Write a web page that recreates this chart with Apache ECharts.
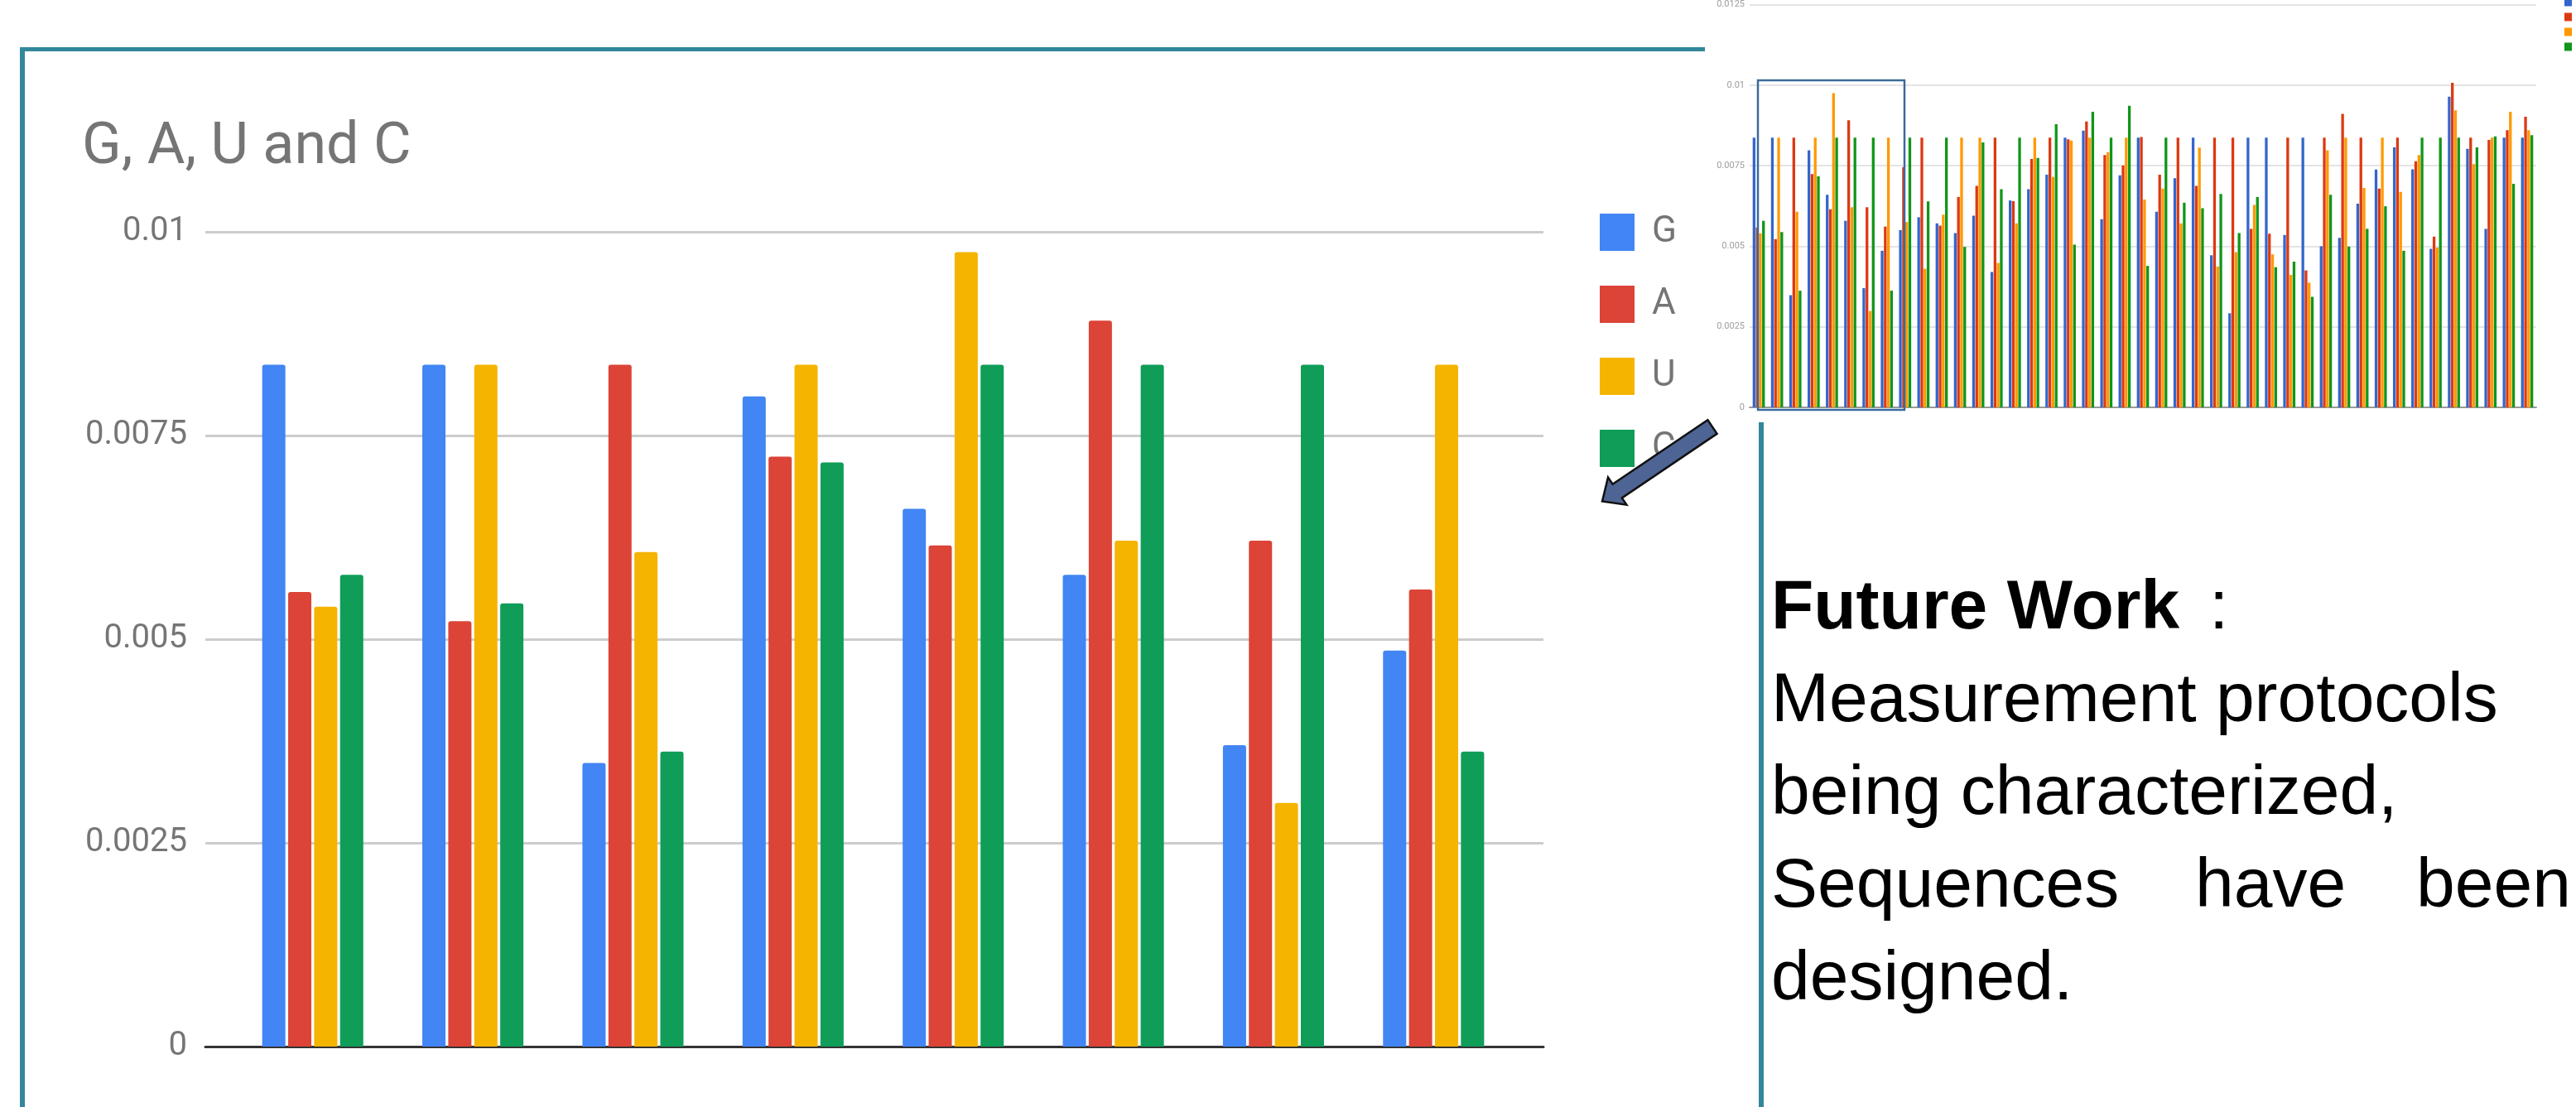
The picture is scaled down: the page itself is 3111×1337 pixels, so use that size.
<!DOCTYPE html>
<html>
<head>
<meta charset="utf-8">
<script src="https://cdn.jsdelivr.net/npm/echarts@6/dist/echarts.min.js"></script>
<style>
  html, body { margin: 0; padding: 0; background: #ffffff; }
  #chart { width: 3111px; height: 1337px; }
</style>
</head>
<body>
<div id="chart"></div>
<script>
// Nucleotide frequency per designed sequence (43 sequences, 4 bases)
const sequenceIds = Array.from({ length: 43 }, (_, i) => String(i + 1));
const baseNames = ['G', 'A', 'U', 'C'];

const freqG = [0.00837, 0.00837, 0.00348, 0.00798, 0.0066, 0.00579, 0.0037, 0.00486, 0.0055, 0.0059,
  0.00571, 0.00541, 0.00595, 0.0042, 0.00642, 0.00677, 0.00722, 0.00837, 0.00859, 0.00584,
  0.0072, 0.00837, 0.00607, 0.00711, 0.00837, 0.00472, 0.00292, 0.00837, 0.00837, 0.00535,
  0.00837, 0.005, 0.00526, 0.00632, 0.00738, 0.00807, 0.00739, 0.00492, 0.00964, 0.00802,
  0.00554, 0.00837, 0.00837];
const freqA = [0.00558, 0.00522, 0.00837, 0.00724, 0.00615, 0.00891, 0.00621, 0.00561, 0.00745, 0.00837,
  0.00564, 0.00653, 0.00687, 0.00837, 0.0064, 0.00771, 0.00837, 0.00832, 0.00887, 0.00783,
  0.00751, 0.00839, 0.00722, 0.00837, 0.00687, 0.00837, 0.00837, 0.00554, 0.00539, 0.00837,
  0.00425, 0.00837, 0.00911, 0.00837, 0.00679, 0.00837, 0.00764, 0.0053, 0.01007, 0.00837,
  0.0083, 0.0086, 0.00902];
const freqU = [0.0054, 0.00837, 0.00607, 0.00837, 0.00975, 0.00621, 0.00299, 0.00837, 0.00575, 0.0043,
  0.00598, 0.00837, 0.00837, 0.00448, 0.00571, 0.00837, 0.00715, 0.00828, 0.00837, 0.00792,
  0.00837, 0.00645, 0.00679, 0.00571, 0.00806, 0.00437, 0.00482, 0.00628, 0.00475, 0.00411,
  0.00387, 0.00798, 0.00837, 0.00681, 0.00837, 0.00669, 0.00783, 0.00496, 0.00922, 0.00755,
  0.00837, 0.00917, 0.0086];
const freqC = [0.00579, 0.00544, 0.00362, 0.00717, 0.00837, 0.00837, 0.00837, 0.00362, 0.00837, 0.00639,
  0.00837, 0.00498, 0.00822, 0.00677, 0.00837, 0.00774, 0.00879, 0.00505, 0.00917, 0.00837,
  0.00936, 0.00439, 0.00837, 0.00635, 0.00618, 0.00662, 0.00541, 0.00653, 0.00435, 0.00452,
  0.00343, 0.0066, 0.00499, 0.00554, 0.00624, 0.00486, 0.00837, 0.00837, 0.00837, 0.00807,
  0.00841, 0.00694, 0.00845];

// The detailed chart shows the first sequences only
const detailCount = 8;
const mainTicks = [0, 0.0025, 0.005, 0.0075, 0.01];
const overviewTicks = [0, 0.0025, 0.005, 0.0075, 0.01, 0.0125];

const allFreqs = [freqG, freqA, freqU, freqC];
const mainColors = ['#4285f4', '#db4437', '#f4b400', '#0f9d58'];
const overviewColors = ['#3366cc', '#dc3912', '#ff9900', '#109618'];

const chart = echarts.init(document.getElementById('chart'), null, { renderer: 'canvas' });

const mainSeries = baseNames.map((name, k) => ({
  name: name,
  type: 'bar',
  xAxisIndex: 1,
  yAxisIndex: 1,
  data: allFreqs[k].slice(0, detailCount),
  barWidth: 28,
  barGap: '12%',
  itemStyle: { color: mainColors[k], borderRadius: [3, 3, 0, 0] },
  animation: false
}));

const overviewSeries = baseNames.map((name, k) => ({
  name: name,
  type: 'bar',
  xAxisIndex: 2,
  yAxisIndex: 2,
  data: allFreqs[k],
  barWidth: 3.3,
  barGap: '15%',
  itemStyle: { color: overviewColors[k] },
  animation: false
}));

const teal = '#33879b';
const noteFont = '84px "Liberation Sans"';

function note(text, x, y, font) {
  return {
    type: 'text', z: 100, x: x, y: y,
    style: { text: text, font: font || noteFont, fill: '#000000', align: 'left', verticalAlign: 'middle' }
  };
}

const option = {
  backgroundColor: '#ffffff',
  animation: false,
  textStyle: { fontFamily: 'Roboto' },
  title: {
    text: 'G, A, U and C',
    left: 99,
    top: 144,
    padding: 0,
    textStyle: { fontFamily: 'Roboto', fontSize: 70, fontWeight: 'normal', color: '#757575' }
  },
  legend: [
    {
      orient: 'vertical',
      left: 1932,
      top: 258,
      padding: 0,
      itemWidth: 42,
      itemHeight: 45,
      itemGap: 42,
      icon: 'rect',
      data: baseNames,
      textStyle: { fontFamily: 'Roboto', fontSize: 44, color: '#757575', padding: [0, 0, 0, 16] }
    },
    {
      orient: 'vertical',
      left: 3097,
      top: -3,
      padding: 0,
      itemWidth: 9,
      itemHeight: 10,
      itemGap: 7,
      icon: 'rect',
      data: baseNames.map((n, k) => ({ name: n, itemStyle: { color: overviewColors[k] } })),
      textStyle: { fontFamily: 'Roboto', fontSize: 11, color: '#757575' }
    }
  ],
  grid: [
    { left: 248, top: 280, width: 1616, height: 984 },
    { left: 281, top: 280, width: 1547, height: 984 },
    { left: 2113, top: 2, width: 950, height: 490 }
  ],
  xAxis: [
    {
      gridIndex: 0, type: 'category', data: [''],
      axisLine: { lineStyle: { color: '#333333', width: 3 } },
      axisTick: { show: false }, axisLabel: { show: false }, splitLine: { show: false }
    },
    {
      gridIndex: 1, type: 'category', data: sequenceIds.slice(0, detailCount),
      axisLine: { show: false }, axisTick: { show: false }, axisLabel: { show: false }
    },
    {
      gridIndex: 2, type: 'category', data: sequenceIds,
      axisLine: { lineStyle: { color: '#9a9a9a', width: 2 } },
      axisTick: { show: false }, axisLabel: { show: false }
    }
  ],
  yAxis: [
    {
      gridIndex: 0, type: 'value',
      min: mainTicks[0], max: mainTicks[mainTicks.length - 1], interval: 0.0025,
      axisLine: { show: false }, axisTick: { show: false },
      axisLabel: { fontFamily: 'Roboto', fontSize: 40, color: '#757575', margin: 22 },
      splitLine: { lineStyle: { color: '#cccccc', width: 3 } }
    },
    {
      gridIndex: 1, type: 'value',
      min: mainTicks[0], max: mainTicks[mainTicks.length - 1],
      show: false, splitLine: { show: false }
    },
    {
      gridIndex: 2, type: 'value',
      min: overviewTicks[0], max: overviewTicks[overviewTicks.length - 1], interval: 0.0025,
      axisLine: { show: false }, axisTick: { show: false },
      axisLabel: { fontFamily: 'Roboto', fontSize: 11, color: '#9e9e9e', margin: 6 },
      splitLine: { lineStyle: { color: '#e4e4e4', width: 2 } }
    }
  ],
  series: mainSeries.concat(overviewSeries),
  graphic: [
    // panel frame
    { type: 'rect', z: 100, shape: { x: 25, y: 57, width: 2034, height: 5 }, style: { fill: teal } },
    { type: 'rect', z: 100, shape: { x: 24, y: 57, width: 6, height: 1290 }, style: { fill: teal } },
    { type: 'rect', z: 100, shape: { x: 2124, y: 510, width: 6, height: 840 }, style: { fill: teal } },
    // highlight around the sequences shown in detail
    {
      type: 'rect', z: 100,
      shape: { x: 2123, y: 97, width: 177, height: 398 },
      style: { fill: 'none', stroke: '#3a6b9b', lineWidth: 2.5 }
    },
    // pointer arrow
    {
      type: 'polygon', z: 110,
      shape: {
        points: [
          [2062.4, 507.2], [2073.6, 523.8], [1958.8, 601.4], [1964.4, 609.7],
          [1935, 605.4], [1942.0, 576.5], [1947.6, 584.8]
        ]
      },
      style: { fill: '#4e6494', stroke: '#111111', lineWidth: 2.5 }
    },
    // notes
    note('Future Work', 2139, 736, 'bold 84px "Liberation Sans"'),
    note(':', 2668, 736),
    note('Measurement protocols', 2139, 848),
    note('being characterized,', 2139, 960),
    note('Sequences', 2139, 1072),
    note('have', 2651, 1072),
    note('been', 2918, 1072),
    note('designed.', 2139, 1184)
  ]
};

chart.setOption(option);
</script>
</body>
</html>
